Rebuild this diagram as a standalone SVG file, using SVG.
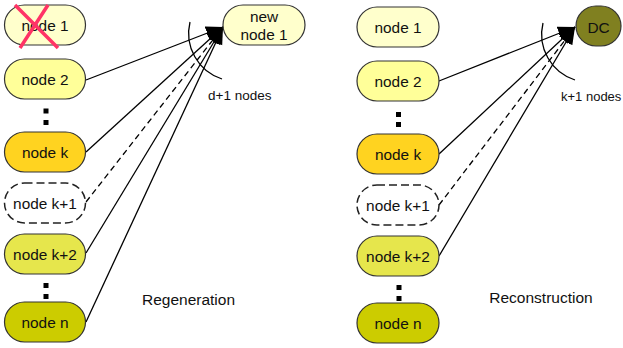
<svg xmlns="http://www.w3.org/2000/svg" width="623" height="348" viewBox="0 0 623 348">
<style>
.n{stroke:#333;stroke-width:1.2}
.d{fill:#fff;stroke:#222;stroke-width:1.5;stroke-dasharray:8,4}
.t{font-family:"Liberation Sans",Arial,sans-serif;font-size:15.4px;fill:#111;text-anchor:middle}
.s{font-family:"Liberation Sans",Arial,sans-serif;font-size:13.5px;fill:#111}
.c{fill:none;stroke:#000;stroke-width:1.3}
.dash{stroke-dasharray:6,4}
.dot{fill:#000}
</style>
<defs>
<marker id="ah" markerUnits="userSpaceOnUse" markerWidth="19" markerHeight="15" refX="17" refY="7" orient="auto">
<path d="M0,0 L17,7 L0,14 z" fill="#000"/>
</marker>
</defs>
<rect width="623" height="348" fill="#fff"/>

<g id="connectors">
<path class="c" d="M86,80 L223,27" marker-end="url(#ah)"/>
<path class="c" d="M86,152 L223,27" marker-end="url(#ah)"/>
<path class="c dash" d="M86,202 L223,27" marker-end="url(#ah)"/>
<path class="c" d="M86,253 L223,27" marker-end="url(#ah)"/>
<path class="c" d="M86,322 L223,27" marker-end="url(#ah)"/>
<path class="c" d="M190,22 A48,48 0 0 0 222,79"/>

<path class="c" d="M439,81 L575,27" marker-end="url(#ah)"/>
<path class="c" d="M439,154 L575,27" marker-end="url(#ah)"/>
<path class="c dash" d="M439,205 L575,27" marker-end="url(#ah)"/>
<path class="c" d="M439,256 L575,27" marker-end="url(#ah)"/>
<path class="c" d="M543,23 A48,48 0 0 0 575,80"/>
</g>

<g id="left-node1">
<rect class="n" x="4.5" y="5" width="81" height="40" rx="20" fill="#ffffcc"/>
<text class="t" x="45" y="31">node 1</text>
<path d="M15,5 L58,48 M48,5 L20,48" stroke="#ff3366" stroke-width="3.5" fill="none"/>
</g>
<g id="left-node2">
<rect class="n" x="4.5" y="59" width="81" height="40" rx="20" fill="#ffff99"/>
<text class="t" x="45" y="85">node 2</text>
</g>
<g id="left-dots1"><rect class="dot" x="43.5" y="108.5" width="5" height="5"/><rect class="dot" x="43.5" y="120" width="5" height="5"/></g>
<g id="left-nodek">
<rect class="n" x="4.5" y="132" width="81" height="40" rx="20" fill="#ffd320"/>
<text class="t" x="45" y="158">node k</text>
</g>
<g id="left-nodek1">
<rect class="d" x="4.5" y="183" width="81" height="40" rx="20"/>
<text class="t" x="45" y="209">node k+1</text>
</g>
<g id="left-nodek2">
<rect class="n" x="4.5" y="234" width="81" height="40" rx="20" fill="#e6e64c"/>
<text class="t" x="45" y="260">node k+2</text>
</g>
<g id="left-dots2"><rect class="dot" x="43.5" y="283" width="5" height="5"/><rect class="dot" x="43.5" y="294" width="5" height="5"/></g>
<g id="left-noden">
<rect class="n" x="4.5" y="302" width="81" height="40" rx="20" fill="#cccc00"/>
<text class="t" x="45" y="328">node n</text>
</g>
<g id="new-node1">
<rect class="n" x="223" y="5" width="82" height="40" rx="20" fill="#ffffcc"/>
<text class="t" x="264" y="22">new</text>
<text class="t" x="264" y="40">node 1</text>
</g>
<text class="s" x="208" y="99.5">d+1 nodes</text>
<text class="t" x="188.5" y="305" style="font-size:15.5px">Regeneration</text>

<g id="right-node1">
<rect class="n" x="357" y="7" width="82" height="40" rx="20" fill="#ffffcc"/>
<text class="t" x="398" y="33">node 1</text>
</g>
<g id="right-node2">
<rect class="n" x="357" y="61" width="82" height="40" rx="20" fill="#ffff99"/>
<text class="t" x="398" y="87">node 2</text>
</g>
<g id="right-dots1"><rect class="dot" x="396" y="112" width="5" height="5"/><rect class="dot" x="396" y="122" width="5" height="5"/></g>
<g id="right-nodek">
<rect class="n" x="357" y="134" width="82" height="40" rx="20" fill="#ffd320"/>
<text class="t" x="398" y="160">node k</text>
</g>
<g id="right-nodek1">
<rect class="d" x="357" y="185" width="82" height="40" rx="20"/>
<text class="t" x="398" y="211">node k+1</text>
</g>
<g id="right-nodek2">
<rect class="n" x="357" y="236" width="82" height="40" rx="20" fill="#e6e64c"/>
<text class="t" x="398" y="262">node k+2</text>
</g>
<g id="right-dots2"><rect class="dot" x="396.5" y="285" width="5" height="5"/><rect class="dot" x="396.5" y="296" width="5" height="5"/></g>
<g id="right-noden">
<rect class="n" x="357" y="303" width="82" height="40" rx="20" fill="#cccc00"/>
<text class="t" x="398" y="329">node n</text>
</g>
<g id="dc">
<rect class="n" x="576" y="6" width="45" height="40" rx="20" fill="#808020"/>
<text class="t" x="598.5" y="32.5">DC</text>
</g>
<text class="s" x="561" y="101" style="font-size:13px">k+1 nodes</text>
<text class="t" x="541" y="302.5" style="font-size:15.5px">Reconstruction</text>
</svg>
